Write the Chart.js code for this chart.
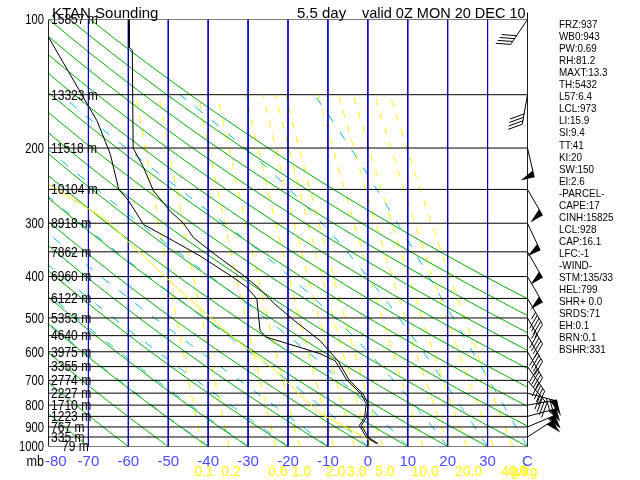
<!DOCTYPE html>
<html>
<head>
<meta charset="utf-8">
<script src="https://cdn.jsdelivr.net/npm/chart.js@4.4.0/dist/chart.umd.min.js"></script>
<style>
  html, body { margin: 0; padding: 0; background: #fff; }
  #wrap { width: 640px; height: 480px; }
</style>
</head>
<body>
<div id="wrap"><canvas id="skewt" width="640" height="480"></canvas></div>
<script>
// eixos e linhas de fundo
const tempTicks = [-80, -70, -60, -50, -40, -30, -20, -10, 0, 10, 20, 30, 40];
const pressureLabels = [100, 200, 300, 400, 500, 600, 700, 800, 900, 1000];
const isobars = [100, 150, 200, 250, 300, 350, 400, 450, 500, 550, 600, 650, 700, 750, 800, 850, 900, 950, 1000];
const heightLabels = ['15857 m', '13323 m', '11518 m', '10104 m', '8918 m', '7862 m', '6960 m', '6122 m', '5353 m',
  '4640 m', '3975 m', '3355 m', '2774 m', '2227 m', '1710 m', '1223 m', '767 m', '335 m', '79 m'];
const mixingRatios = [0.1, 0.2, 0.6, 1.0, 2.0, 3.0, 4.0, 5.0, 10.0, 15.0, 20.0, 30.0, 40.0];
const mixingLabeled = [0.1, 0.2, 0.6, 1.0, 2.0, 3.0, 5.0, 10.0, 20.0, 40.0];
const mixingLabels = ['0.1', '0.2', '0.6', '1.0', '2.0', '3.0', '5.0', '10.0', '20.0', '40.0'];
const dryAdiabats = [-70, -60, -50, -40, -30, -20, -10, 0, 10, 20, 30, 40, 50, 60, 70, 80, 90, 100, 110, 120];
const moistAdiabats = [-40, -30, -20, -10, 0, 10, 20, 30, 40];

// sondagem (temperatura e ponto de orvalho)
const tempP = [100, 116, 118, 200, 222, 252, 281, 300, 324, 355, 394, 424, 464, 508, 565, 630, 700, 753, 795, 854, 893, 951, 985];
const tempC = [-59.8, -59.8, -59.0, -58.8, -56.2, -53.7, -49.5, -46.2, -43.7, -38.3, -31.7, -27.5, -23.3, -18.3, -12.0, -7.5, -4.6, -1.2, 0.1, -0.3, -1.6, 0.1, 2.6];
const dewP = [110, 173, 207, 250, 266, 302, 330, 358, 402, 424, 451, 536, 555, 586, 606, 630, 700, 753, 795, 854, 893, 951, 985];
const dewC = [-80, -67.8, -64.5, -62.4, -59.9, -56.2, -48.7, -42.0, -33.7, -30.3, -27.8, -27.0, -25.3, -17.0, -12.0, -8.2, -5.2, -1.7, -0.4, -0.8, -2.1, -0.4, 2.2];

// parcela (linha amarela)
const parcelP = [243, 296, 330, 432, 556, 664, 837, 979];
const parcelC = [-80, -65.2, -60.2, -47.0, -33.7, -23.2, -12.0, 1.7];

// vento
const windP = [100, 150, 200, 250, 300, 350, 400, 450, 500, 550, 600, 650, 700, 750, 800, 850, 900, 950];
const windDir = [214, 190, 167, 150, 155, 150, 150, 150, 150, 150, 150, 145, 140, 105, 80, 75, 67, 57];
const windKt = [40, 40, 50, 50, 50, 50, 50, 45, 45, 40, 40, 40, 40, 40, 50, 55, 60, 50];

// indices
const indices = ['FRZ:937', 'WB0:943', 'PW:0.69', 'RH:81.2', 'MAXT:13.3', 'TH:5432', 'L57:6.4', 'LCL:973', 'LI:15.9',
  'SI:9.4', 'TT:41', 'KI:20', 'SW:150', 'EI:2.6', '-PARCEL-', 'CAPE:17', 'CINH:15825', 'LCL:928', 'CAP:16.1',
  'LFC:-1', '-WIND-', 'STM:135/33', 'HEL:799', 'SHR+ 0.0', 'SRDS:71', 'EH:0.1', 'BRN:0.1', 'BSHR:331'];

// termodinamica
function dewFromMix(w, p) {
  const e = w * p / (622 + w);
  const l = Math.log(e / 6.112);
  return 243.5 * l / (17.67 - l);
}
function satMix(tK, p) {
  const tc = tK - 273.15;
  const es = 6.112 * Math.exp(17.67 * tc / (tc + 243.5));
  return 0.622 * es / (p - es);
}
function moistPath(tw) {
  let T = tw + 273.15;
  const pts = [];
  for (let p = 1000; p >= 150; p -= 5) {
    pts.push({ x: T - 273.15, y: p });
    const rs = satMix(T, p);
    const dTdp = (287.04 * T + 2.501e6 * rs) / (p * (1005.7 + 2.501e6 * 2.501e6 * rs * 0.622 / (287.04 * T * T)));
    T -= dTdp * 5;
  }
  return pts;
}
function dryPath(th) {
  const pts = [];
  for (let p = 1000; p >= 100; p -= 10) {
    pts.push({ x: (th + 273.15) * Math.pow(p / 1000, 0.2857) - 273.15, y: p });
  }
  return pts;
}
function mixPath(w) {
  const pts = [];
  for (let p = 1000; p >= 150; p -= 25) pts.push({ x: dewFromMix(w, p), y: p });
  return pts;
}
const zip = (ps, ts) => ps.map((p, i) => ({ x: ts[i], y: p }));

function linha(data, color, order, dash, width) {
  return {
    data: data, borderColor: color, borderWidth: width || 1, borderDash: dash || [],
    pointRadius: 0, showLine: true, fill: false, tension: 0, order: order
  };
}

const datasets = [];
datasets.push(linha(zip(tempP, tempC), '#000000', 0));
datasets.push(linha(zip(dewP, dewC), '#000000', 0));
datasets.push(linha(zip(parcelP, parcelC), '#ffff00', 1));
isobars.forEach(p => datasets.push(linha([{ x: -80, y: p }, { x: 40, y: p }], '#000000', 2)));
tempTicks.forEach(t => {
  const cor = (t === -80 || t === 40) ? '#000000' : '#0000c8';
  datasets.push(linha([{ x: t, y: 100 }, { x: t, y: 1000 }], cor, 3));
});
dryAdiabats.forEach(th => datasets.push(linha(dryPath(th), '#00aa00', 4)));
moistAdiabats.forEach(tw => datasets.push(linha(moistPath(tw), '#00b8c8', 5, [9, 12])));
mixingRatios.forEach(w => datasets.push(linha(mixPath(w), '#ffff00', 6, [7, 8])));

// texto
function txt(ctx, s, x, y, o) {
  o = o || {};
  const size = o.size || 14, sx = o.sx || 1;
  ctx.save();
  ctx.font = size + 'px "Liberation Sans", Arial, sans-serif';
  ctx.fillStyle = o.color || '#000';
  ctx.textBaseline = o.base || 'middle';
  ctx.textAlign = 'left';
  const w = ctx.measureText(s).width * sx;
  let left = x;
  if (o.align === 'right') left = x - w;
  if (o.align === 'center') left = x - w / 2;
  ctx.translate(left, y);
  ctx.scale(sx, 1);
  ctx.fillText(s, 0, 0);
  ctx.restore();
}

function drawBarb(ctx, x0, y0, dir, kt) {
  const L = 30;
  const r = dir * Math.PI / 180;
  const sx = Math.sin(r), sy = -Math.cos(r);
  const bx = -sy, by = sx;
  const tx = x0 + sx * L, ty = y0 + sy * L;
  ctx.beginPath();
  ctx.moveTo(x0, y0);
  ctx.lineTo(tx, ty);
  ctx.stroke();
  let spd = Math.round(kt / 5) * 5;
  let pos = 0;
  const P = d => [tx - sx * d, ty - sy * d];
  while (spd >= 50) {
    const a = P(pos), b = P(pos + 7);
    ctx.beginPath();
    ctx.moveTo(a[0], a[1]);
    ctx.lineTo(a[0] + 14 * bx, a[1] + 14 * by);
    ctx.lineTo(b[0], b[1]);
    ctx.closePath();
    ctx.fill();
    pos += 8; spd -= 50;
  }
  const lx = 0.87 * bx + 0.5 * sx, ly = 0.87 * by + 0.5 * sy;
  while (spd >= 10) {
    const a = P(pos);
    ctx.beginPath();
    ctx.moveTo(a[0], a[1]);
    ctx.lineTo(a[0] + 15 * lx, a[1] + 15 * ly);
    ctx.stroke();
    pos += 3.5; spd -= 10;
  }
  if (spd >= 5) {
    const a = P(pos);
    ctx.beginPath();
    ctx.moveTo(a[0], a[1]);
    ctx.lineTo(a[0] + 8 * lx, a[1] + 8 * ly);
    ctx.stroke();
  }
}

const decor = {
  id: 'decor',
  afterDraw(chart) {
    const ctx = chart.ctx, a = chart.chartArea, xs = chart.scales.x, ys = chart.scales.y;

    // eixo direito prolongado
    ctx.save();
    ctx.strokeStyle = '#000'; ctx.lineWidth = 1;
    ctx.beginPath(); ctx.moveTo(a.right, a.top - 7); ctx.lineTo(a.right, a.top); ctx.stroke();
    ctx.restore();

    txt(ctx, 'KTAN Sounding', 52, 18, { size: 15, base: 'alphabetic' });
    txt(ctx, '5.5 day', 297, 18, { size: 15, base: 'alphabetic' });
    txt(ctx, 'valid 0Z MON 20 DEC 10', 362, 18, { size: 14.5, base: 'alphabetic' });

    pressureLabels.forEach(p => txt(ctx, String(p), 44, ys.getPixelForValue(p) + 1, { size: 14, sx: 0.8, align: 'right' }));
    txt(ctx, 'mb', 44, 462, { size: 14, sx: 0.9, align: 'right' });

    tempTicks.forEach((t, i) => {
      const px = xs.getPixelForValue(t);
      if (i === 0) txt(ctx, String(t), 45, 462, { size: 15, color: '#4a4aff' });
      else if (t === 40) txt(ctx, 'C', px, 462, { size: 15, color: '#4a4aff', align: 'center' });
      else txt(ctx, String(t), px, 462, { size: 15, color: '#4a4aff', align: 'center' });
    });

    mixingLabeled.forEach((w, i) => {
      txt(ctx, mixingLabels[i], xs.getPixelForValue(dewFromMix(w, 1000)) + 2, 472, { size: 14, color: '#ffff00', align: 'center' });
    });
    txt(ctx, 'g/kg', 511, 472, { size: 14, color: '#ffff00' });

    isobars.forEach((p, i) => {
      const x0 = heightLabels[i].length <= 4 ? 62 : 51;
      txt(ctx, heightLabels[i], x0, ys.getPixelForValue(p) + 1, { size: 14, sx: 0.86 });
    });

    indices.forEach((s, i) => txt(ctx, s, 559, 25 + i * 12.05, { size: 11, sx: 0.9 }));

    ctx.save();
    ctx.strokeStyle = '#000'; ctx.fillStyle = '#000'; ctx.lineWidth = 1;
    windP.forEach((p, i) => drawBarb(ctx, a.right, ys.getPixelForValue(p), windDir[i], windKt[i]));
    ctx.restore();
  }
};

new Chart(document.getElementById('skewt'), {
  type: 'scatter',
  data: { datasets: datasets },
  options: {
    responsive: false,
    animation: false,
    devicePixelRatio: 1,
    layout: { padding: { left: 48.5, right: 112.5, top: 19.5, bottom: 33.5 } },
    scales: {
      x: { type: 'linear', min: -80, max: 40, display: false },
      y: { type: 'logarithmic', min: 100, max: 1000, reverse: true, display: false }
    },
    plugins: { legend: { display: false }, tooltip: { enabled: false } },
    events: []
  },
  plugins: [decor]
});
</script>
</body>
</html>
